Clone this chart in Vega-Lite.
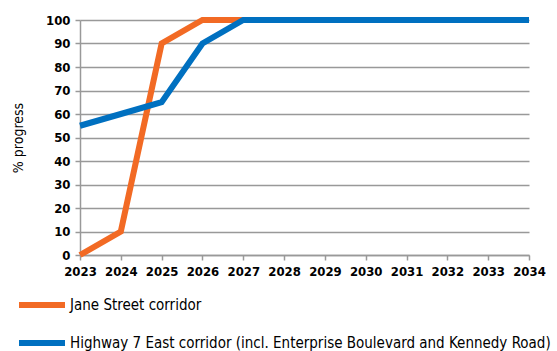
{
  "$schema": "https://vega.github.io/schema/vega-lite/v6.json",
  "autosize": "none",
  "padding": {"left": 80, "top": 20, "right": 28, "bottom": 96},
  "width": 449,
  "height": 235,
  "config": {
    "font": "DejaVu Sans Condensed",
    "view": {"stroke": null}
  },
  "data": {
    "values": [
      {"year": 2023, "series": "Jane Street corridor", "value": 0},
      {"year": 2024, "series": "Jane Street corridor", "value": 10},
      {"year": 2025, "series": "Jane Street corridor", "value": 90},
      {"year": 2026, "series": "Jane Street corridor", "value": 100},
      {"year": 2027, "series": "Jane Street corridor", "value": 100},
      {"year": 2028, "series": "Jane Street corridor", "value": 100},
      {"year": 2029, "series": "Jane Street corridor", "value": 100},
      {"year": 2030, "series": "Jane Street corridor", "value": 100},
      {"year": 2031, "series": "Jane Street corridor", "value": 100},
      {"year": 2032, "series": "Jane Street corridor", "value": 100},
      {"year": 2033, "series": "Jane Street corridor", "value": 100},
      {"year": 2034, "series": "Jane Street corridor", "value": 100},
      {"year": 2023, "series": "Highway 7 East corridor (incl. Enterprise Boulevard and Kennedy Road)", "value": 55},
      {"year": 2024, "series": "Highway 7 East corridor (incl. Enterprise Boulevard and Kennedy Road)", "value": 60},
      {"year": 2025, "series": "Highway 7 East corridor (incl. Enterprise Boulevard and Kennedy Road)", "value": 65},
      {"year": 2026, "series": "Highway 7 East corridor (incl. Enterprise Boulevard and Kennedy Road)", "value": 90},
      {"year": 2027, "series": "Highway 7 East corridor (incl. Enterprise Boulevard and Kennedy Road)", "value": 100},
      {"year": 2028, "series": "Highway 7 East corridor (incl. Enterprise Boulevard and Kennedy Road)", "value": 100},
      {"year": 2029, "series": "Highway 7 East corridor (incl. Enterprise Boulevard and Kennedy Road)", "value": 100},
      {"year": 2030, "series": "Highway 7 East corridor (incl. Enterprise Boulevard and Kennedy Road)", "value": 100},
      {"year": 2031, "series": "Highway 7 East corridor (incl. Enterprise Boulevard and Kennedy Road)", "value": 100},
      {"year": 2032, "series": "Highway 7 East corridor (incl. Enterprise Boulevard and Kennedy Road)", "value": 100},
      {"year": 2033, "series": "Highway 7 East corridor (incl. Enterprise Boulevard and Kennedy Road)", "value": 100},
      {"year": 2034, "series": "Highway 7 East corridor (incl. Enterprise Boulevard and Kennedy Road)", "value": 100}
    ]
  },
  "mark": {"type": "line", "strokeWidth": 6, "strokeJoin": "miter", "strokeCap": "butt"},
  "encoding": {
    "x": {
      "field": "year",
      "type": "quantitative",
      "scale": {"domain": [2023, 2034], "nice": false, "zero": false},
      "axis": {
        "title": null,
        "values": [2023, 2024, 2025, 2026, 2027, 2028, 2029, 2030, 2031, 2032, 2033, 2034],
        "format": "d",
        "grid": false,
        "labelOverlap": false,
        "labelBound": false,
        "labelFlush": false,
        "domainColor": "#999999",
        "domainWidth": 1.5,
        "tickColor": "#999999",
        "tickWidth": 1.5,
        "tickSize": 5,
        "labelFontSize": 13,
        "labelFontWeight": "bold",
        "labelColor": "#000000",
        "labelPadding": 5
      }
    },
    "y": {
      "field": "value",
      "type": "quantitative",
      "scale": {"domain": [0, 100], "nice": false},
      "axis": {
        "title": "% progress",
        "titleFontSize": 14,
        "titleFontWeight": "normal",
        "titleColor": "#000000",
        "titlePadding": 20,
        "values": [0, 10, 20, 30, 40, 50, 60, 70, 80, 90, 100],
        "grid": true,
        "gridColor": "#999999",
        "gridWidth": 1.5,
        "domainColor": "#999999",
        "domainWidth": 1.5,
        "tickColor": "#999999",
        "tickWidth": 1.5,
        "tickSize": 5,
        "labelOverlap": false,
        "labelFontSize": 13,
        "labelFontWeight": "bold",
        "labelColor": "#000000",
        "labelPadding": 5
      }
    },
    "color": {
      "field": "series",
      "type": "nominal",
      "sort": ["Jane Street corridor", "Highway 7 East corridor (incl. Enterprise Boulevard and Kennedy Road)"],
      "scale": {
        "domain": ["Jane Street corridor", "Highway 7 East corridor (incl. Enterprise Boulevard and Kennedy Road)"],
        "range": ["#F26A24", "#0070C0"]
      },
      "legend": {
        "title": null,
        "orient": "none",
        "legendX": -64,
        "legendY": 259,
        "direction": "vertical",
        "symbolType": "stroke",
        "symbolSize": 2116,
        "symbolStrokeWidth": 6,
        "rowPadding": -12,
        "labelFontSize": 15,
        "labelColor": "#000000",
        "labelOffset": 2,
        "labelLimit": 600
      }
    }
  }
}
